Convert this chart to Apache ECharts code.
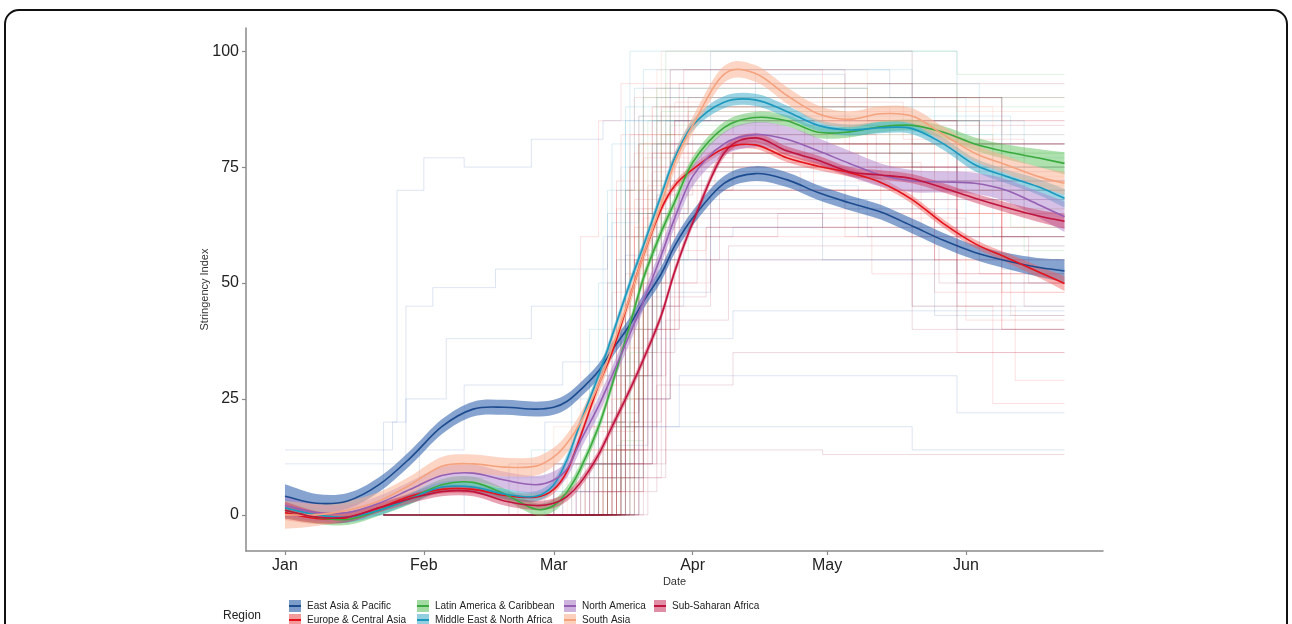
<!DOCTYPE html>
<html><head><meta charset="utf-8">
<script src="https://cdn.jsdelivr.net/npm/echarts@6/dist/echarts.min.js"></script>
<style>html,body{margin:0;padding:0;background:#fff}#c{width:1292px;height:624px}</style>
</head><body><div id="c"></div>
<script>
// ---- axis / tick data ----
const monthDays = [0, 31, 60, 91, 121, 152];
const monthLabels = ['Jan', 'Feb', 'Mar', 'Apr', 'May', 'Jun'];
const yTicks = [0, 25, 50, 75, 100];

// ---- region names ----
const regionNames = ['East Asia & Pacific', 'Europe & Central Asia', 'Latin America & Caribbean',
  'Middle East & North Africa', 'North America', 'South Asia', 'Sub-Saharan Africa'];

// ---- smoothed regional means (days since Jan 1 2020) ----
const days = [0,7,14,21,28,35,42,49,56,60,63,66,70,73,77,80,84,87,91,98,105,112,119,126,133,140,147,154,161,168,174];
const eap  = [4,2.5,3,6.5,12.3,19,22.8,23.2,22.8,23.2,24.5,27,31,35.5,41,46,52,58,64,71.5,73.6,72.3,69.5,67.3,65.3,62.3,59.2,56.6,54.8,53.4,52.6];
const eca  = [0.5,-0.8,-0.6,1.5,4,5.5,5.5,4.2,3.8,5.5,9.5,17,28,35,47,56,66,71,74.5,79,79.8,77,75.2,73.8,71.7,68,62.8,58.5,55.5,52.5,49.9];
const lac  = [1,-0.5,-1,1,3.5,6.5,7,4.5,1.2,2,5,10,19,28,41,51,61,67.5,76,83.5,85.7,85,82.5,82.6,83.7,84,82.5,80,78.3,77,75.8];
const mena = [1.5,0,-0.5,1,3.5,6,6,4.5,4,6.5,12,20,30,38.5,50,58,69,77,84,89,89.5,87,84,83,83.5,83.3,80,75.5,73,70.8,68.3];
const na   = [2,0.5,0.5,2.5,5.5,8.5,9,7.5,6.5,7.5,10,16,23.5,30,39,46,56,64,73,80,82,81,78.5,75.8,73.3,72,71.8,71.5,70,67,64.3];
const sa   = [0,0,1,3,6.5,10.5,11,10.3,10.5,12.5,15.5,20,28,36,47,56,67,76,84,95,95.2,90.5,86.5,85.3,86.5,86,82,78,75.5,73,71.5];
const ssa  = [1,-0.5,-0.5,1.5,3.5,5,5,3,2,2.5,4,7,13,19,27,33.5,43,52.5,63,78,81.3,78.5,76.5,74,73.3,72.5,70.5,68.3,66.3,64.5,63.3];

// ---- confidence band half-widths ----
const eapSE  = [2.6,2.0,1.7,1.6,1.6,1.6,1.6,1.6,1.6,1.6,1.6,1.6,1.6,1.6,1.6,1.6,1.6,1.6,1.6,1.6,1.6,1.6,1.6,1.6,1.6,1.6,1.6,1.6,1.7,2.0,2.5];
const ecaSE  = [1.6,1.2,1.0,0.9,0.9,0.9,0.9,0.9,0.9,0.9,0.9,0.9,0.9,0.9,0.9,0.9,0.9,0.9,0.9,0.9,0.9,0.9,0.9,0.9,0.9,0.9,0.9,0.9,1.0,1.2,1.6];
const lacSE  = [1.8,1.4,1.2,1.2,1.2,1.2,1.2,1.2,1.3,1.3,1.2,1.2,1.2,1.2,1.2,1.2,1.2,1.2,1.2,1.2,1.2,1.2,1.2,1.2,1.2,1.2,1.3,1.4,1.6,1.9,2.4];
const menaSE = [1.8,1.4,1.2,1.1,1.1,1.1,1.1,1.1,1.1,1.1,1.1,1.1,1.1,1.1,1.1,1.1,1.1,1.1,1.2,1.3,1.3,1.3,1.2,1.2,1.2,1.2,1.3,1.4,1.5,1.7,2.0];
const naSE   = [2.2,1.8,1.6,1.6,1.7,1.8,1.8,1.8,1.9,1.9,1.9,1.9,1.9,1.9,1.9,1.9,1.9,2.0,2.2,2.5,2.7,2.8,2.8,2.7,2.5,2.4,2.3,2.3,2.4,2.8,3.3];
const saSE   = [3.0,2.4,2.0,1.9,1.9,2.0,2.0,2.0,2.0,2.0,2.0,2.0,1.9,1.9,1.9,1.9,1.8,1.8,1.8,1.8,1.8,1.8,1.8,1.7,1.7,1.7,1.7,1.8,1.9,2.1,2.5];
const ssaSE  = [1.8,1.3,1.1,1.0,1.0,1.0,1.0,1.0,1.0,1.0,1.0,1.0,1.0,1.0,1.0,1.0,1.0,1.0,1.0,1.0,1.0,1.0,1.0,1.0,1.0,1.0,1.0,1.0,1.1,1.3,1.6];

// ---- individual country step series: flat [day, value, day, value, ...] ----
const stepsEAP = [
  [0,0, 22,20, 25,70, 31,77, 40,75, 55,81, 71,85, 100,82, 121,78, 140,72, 174,72],
  [0,14, 24,20, 27,45, 33,49, 47,53, 60,53, 72,65, 90,74, 125,66, 150,60, 174,60],
  [0,11, 27,25, 36,38, 55,45, 78,55, 95,68, 130,60, 155,55, 174,55],
  [20,0, 30,14, 40,28, 62,33, 80,48, 95,70, 140,62, 160,53, 174,53],
  [22,0, 40,8, 58,20, 76,40, 84,65, 120,55, 145,43, 174,43],
  [22,0, 65,11, 76,56, 83,80, 105,95, 125,85, 150,70, 174,70],
  [24,0, 72,20, 79,70, 86,96, 135,90, 160,80, 174,80],
  [22,0, 60,5, 75,30, 82,60, 100,62, 140,45, 174,45],
  [30,0, 74,15, 81,45, 89,71, 128,60, 150,50, 174,50],
  [22,0, 50,11, 78,19, 88,30, 150,22, 174,22],
  [40,0, 70,11, 82,85, 95,100, 140,75, 174,75],
  [45,0, 79,25, 86,55, 110,55, 150,40, 174,40],
  [22,0, 60,11, 75,19, 100,19, 140,14, 174,14],
  [22,0, 76,30, 84,62, 120,68, 174,68],
  [30,0, 68,8, 80,38, 100,44, 174,44]
];
const stepsECA = [
  [22,0, 52,11, 66,60, 70,85, 75,93, 125,80, 150,65, 160,48, 174,48],
  [22,0, 60,11, 72,50, 75,82, 100,85, 130,75, 160,55, 174,55],
  [30,0, 65,8, 74,70, 78,90, 120,85, 150,65, 174,65],
  [22,0, 68,14, 75,45, 80,80, 130,75, 155,60, 174,60],
  [35,0, 62,5, 73,40, 77,75, 110,75, 140,55, 160,40, 174,40],
  [22,0, 70,20, 76,65, 82,88, 135,80, 160,60, 174,60],
  [45,0, 66,11, 74,55, 81,70, 125,60, 150,35, 174,35],
  [22,0, 71,30, 77,75, 86,96, 120,90, 155,70, 174,70],
  [50,0, 64,19, 72,60, 79,80, 135,70, 160,55, 174,55],
  [22,0, 67,11, 75,50, 85,65, 120,62, 150,45, 163,29, 174,29],
  [55,0, 73,25, 79,80, 90,87, 140,75, 174,75],
  [22,0, 60,14, 76,70, 83,85, 118,70, 160,40, 174,40],
  [40,0, 72,8, 78,60, 84,78, 128,72, 155,52, 174,52],
  [22,0, 69,28, 74,72, 80,92, 130,85, 174,85],
  [58,0, 75,40, 80,77, 100,80, 145,55, 162,43, 174,43],
  [22,0, 66,5, 76,45, 88,60, 150,50, 174,50],
  [48,0, 70,18, 78,62, 92,75, 133,65, 174,65],
  [22,0, 74,11, 80,50, 95,70, 140,45, 158,24, 174,24],
  [22,0, 68,19, 74,66, 79,86, 126,78, 150,58, 174,58],
  [40,0, 71,11, 76,52, 82,74, 115,70, 145,48, 174,48],
  [22,0, 73,14, 78,68, 85,82, 140,72, 174,72],
  [50,0, 69,5, 75,36, 80,64, 122,64, 152,42, 174,42],
  [22,0, 72,28, 77,82, 87,89, 138,81, 165,66, 174,66],
  [35,0, 74,20, 79,57, 94,62, 131,52, 174,52],
  [22,0, 67,8, 73,48, 78,78, 112,80, 148,62, 174,62],
  [45,0, 76,30, 81,71, 96,76, 142,60, 174,60]
];
const stepsLAC = [
  [22,0, 72,20, 76,70, 80,90, 160,88, 174,88],
  [40,0, 74,25, 79,80, 85,100, 150,95, 174,95],
  [22,0, 70,11, 77,60, 84,82, 130,85, 155,75, 174,75],
  [55,0, 76,30, 82,72, 100,78, 140,70, 174,70],
  [22,0, 71,14, 78,50, 86,88, 140,80, 160,66, 174,66],
  [50,0, 75,40, 81,85, 120,93, 150,78, 174,78],
  [22,0, 73,8, 80,55, 90,75, 145,72, 162,62, 174,62],
  [60,0, 77,35, 83,92, 130,90, 174,90],
  [22,0, 72,19, 79,65, 88,80, 150,70, 165,57, 174,57],
  [30,0, 75,16, 80,62, 86,84, 135,78, 174,78],
  [22,0, 78,45, 84,87, 125,82, 158,71, 174,71]
];
const stepsMENA = [
  [22,0, 55,14, 68,40, 73,80, 80,96, 140,85, 160,70, 174,70],
  [22,0, 60,11, 70,50, 76,85, 120,88, 150,72, 174,72],
  [45,0, 66,20, 72,70, 78,92, 130,93, 155,80, 174,80],
  [22,0, 64,25, 71,60, 77,100, 110,100, 150,85, 165,65, 174,65],
  [35,0, 62,8, 74,55, 82,80, 135,80, 158,60, 174,60],
  [22,0, 69,30, 75,75, 83,90, 145,82, 174,82],
  [22,0, 58,5, 68,30, 76,88, 125,90, 152,58, 174,58],
  [50,0, 70,19, 77,65, 85,85, 155,75, 174,75],
  [22,0, 67,11, 73,63, 79,86, 138,86, 162,77, 174,77]
];
const stepsNA = [
  [22,0, 65,5, 74,30, 79,55, 86,72, 130,72, 155,68, 174,68],
  [22,0, 68,11, 76,60, 83,75, 150,72, 174,72]
];
const stepsSA = [
  [22,0, 70,14, 80,55, 84,100, 140,90, 160,82, 174,82],
  [22,0, 50,11, 75,60, 83,96, 130,85, 155,70, 174,70],
  [40,0, 60,19, 77,70, 85,93, 150,87, 174,87],
  [22,0, 72,25, 79,82, 120,90, 150,80, 174,80],
  [50,0, 67,8, 78,50, 82,88, 160,80, 174,80],
  [22,0, 74,30, 81,78, 110,85, 145,72, 174,72],
  [45,0, 63,11, 76,40, 87,70, 140,65, 174,65],
  [22,0, 71,5, 80,66, 90,88, 158,73, 174,73]
];
const stepsSSA = [
  [22,0, 75,11, 82,60, 87,85, 140,80, 160,72, 174,72],
  [50,0, 77,20, 84,88, 130,85, 155,80, 174,80],
  [22,0, 72,5, 80,40, 88,75, 150,70, 174,70],
  [40,0, 74,14, 81,65, 90,90, 160,85, 174,85],
  [22,0, 70,8, 78,55, 86,80, 135,75, 174,75],
  [60,0, 79,30, 85,70, 100,78, 150,60, 174,60],
  [22,0, 76,11, 83,50, 92,66, 145,55, 165,45, 174,45],
  [45,0, 73,19, 80,72, 89,96, 125,93, 174,93],
  [22,0, 78,25, 86,60, 110,65, 150,52, 174,52],
  [55,0, 75,8, 84,45, 95,55, 140,40, 174,40],
  [22,0, 71,14, 82,78, 120,80, 174,80],
  [62,0, 80,35, 87,85, 150,80, 174,80],
  [22,0, 74,5, 83,28, 100,35, 174,35],
  [48,0, 77,11, 85,55, 97,70, 150,60, 166,50, 174,50],
  [22,0, 72,22, 79,66, 93,78, 140,68, 174,68],
  [60,0, 81,40, 88,93, 140,90, 174,90],
  [30,0, 75,14, 120,13, 174,13],
  [22,0, 76,19, 83,69, 91,82, 132,74, 174,74],
  [40,0, 78,8, 85,42, 99,58, 146,50, 174,50],
  [22,0, 79,25, 86,76, 116,84, 174,84],
  [55,0, 73,11, 82,47, 94,62, 174,62]
];

// ---- styling ----
const lineColors = ['#1d4b8f', '#e3121b', '#3aaa3f', '#1a98bd', '#9560b3', '#f5a27f', '#c0133d'];
const bandColors = ['rgba(60,108,178,0.62)', 'rgba(242,88,88,0.45)', 'rgba(96,196,96,0.5)',
  'rgba(70,176,206,0.55)', 'rgba(176,130,204,0.5)', 'rgba(250,178,148,0.55)', 'rgba(204,48,88,0.45)'];
const bandSolid = ['#7d9cca', '#f59a9a', '#a4dba4', '#93cfe1', '#cdb2dd', '#fbd0bd', '#e08ea6'];
const bgColors = ['rgba(40,90,170,0.2)', 'rgba(225,40,45,0.18)', 'rgba(60,170,70,0.2)',
  'rgba(30,150,190,0.2)', 'rgba(150,90,180,0.22)', 'rgba(245,150,120,0.22)', 'rgba(160,20,60,0.2)'];

const means = [eap, eca, lac, mena, na, sa, ssa];
const ses = [eapSE, ecaSE, lacSE, menaSE, naSE, saSE, ssaSE];
const stepSets = [stepsEAP, stepsECA, stepsLAC, stepsMENA, stepsNA, stepsSA, stepsSSA];

// smooth cubic path through pixel points (x-parametrised Hermite, finite-difference tangents)
function smoothPath(pts, start) {
  const n = pts.length;
  const slope = pts.map((p, i) => {
    const a = pts[Math.max(0, i - 1)], b = pts[Math.min(n - 1, i + 1)];
    return (b[1] - a[1]) / (b[0] - a[0]);
  });
  let s = (start ? 'M' : 'L') + pts[0][0].toFixed(2) + ' ' + pts[0][1].toFixed(2);
  for (let i = 0; i < n - 1; i++) {
    const p1 = pts[i], p2 = pts[i + 1], h = (p2[0] - p1[0]) / 3;
    s += ' C' + (p1[0] + h).toFixed(2) + ' ' + (p1[1] + slope[i] * h).toFixed(2) + ' ' +
      (p2[0] - h).toFixed(2) + ' ' + (p2[1] - slope[i + 1] * h).toFixed(2) + ' ' +
      p2[0].toFixed(2) + ' ' + p2[1].toFixed(2);
  }
  return s;
}

const series = [];
stepSets.forEach((set, r) => {
  set.forEach((flat, k) => {
    const data = [];
    for (let i = 0; i < flat.length; i += 2) data.push([flat[i], flat[i + 1]]);
    series.push({
      type: 'line', name: 'bg' + r + '_' + k, data, step: 'end', showSymbol: false, silent: true,
      lineStyle: { width: 0.8, color: bgColors[r] }, z: 1, animation: false
    });
  });
});
means.forEach((m, r) => {
  const se = ses[r];
  series.push({
    type: 'custom', name: regionNames[r], silent: true, z: 2, animation: false,
    itemStyle: { color: bandSolid[r] },
    data: days.map((d, i) => [d, m[i] - se[i], m[i] + se[i]]),
    encode: { x: 0, y: [1, 2] },
    renderItem: (params, api) => {
      if (params.dataIndex !== 0) return null;
      const up = days.map((d, i) => api.coord([d, m[i] + se[i]]));
      const lo = days.map((d, i) => api.coord([d, m[i] - se[i]])).reverse();
      return {
        type: 'path', silent: true,
        shape: { pathData: smoothPath(up, true) + ' ' + smoothPath(lo, false) + ' Z' },
        style: { fill: bandColors[r], stroke: null }
      };
    }
  });
});
means.forEach((m, r) => {
  series.push({
    type: 'custom', name: regionNames[r] + ' mean', silent: true, z: 3, animation: false,
    data: days.map((d, i) => [d, m[i]]),
    encode: { x: 0, y: 1 },
    renderItem: (params, api) => {
      if (params.dataIndex !== 0) return null;
      const pts = days.map((d, i) => api.coord([d, m[i]]));
      return {
        type: 'path', silent: true,
        shape: { pathData: smoothPath(pts, true) },
        style: { fill: null, stroke: lineColors[r], lineWidth: 1.6 }
      };
    }
  });
});

function legendItem(r) {
  return {
    name: regionNames[r], icon: 'rect',
    itemStyle: {
      color: {
        type: 'linear', x: 0, y: 0, x2: 0, y2: 1,
        colorStops: [
          { offset: 0, color: bandSolid[r] }, { offset: 0.42, color: bandSolid[r] },
          { offset: 0.42, color: lineColors[r] }, { offset: 0.58, color: lineColors[r] },
          { offset: 0.58, color: bandSolid[r] }, { offset: 1, color: bandSolid[r] }
        ]
      },
      borderWidth: 0
    }
  };
}
const legendCols = [[0, 1], [2, 3], [4, 5], [6]];
const legendLefts = [289, 417, 564, 654];
const legends = legendCols.map((col, c) => ({
  orient: 'vertical', left: legendLefts[c], top: 600, height: 40, itemWidth: 12, itemHeight: 12, itemGap: 2,
  selectedMode: false, padding: 0,
  textStyle: { fontSize: 10, color: '#222', fontFamily: 'Liberation Sans', padding: [0, 0, 0, 1] },
  data: col.map(legendItem)
}));

const chart = echarts.init(document.getElementById('c'), null, { renderer: 'canvas' });
chart.setOption({
  backgroundColor: '#fff',
  animation: false,
  title: {
    text: 'Region', left: 218, top: 605,
    textStyle: { fontSize: 12, fontWeight: 'normal', color: '#222', fontFamily: 'Liberation Sans' }
  },
  legend: legends,
  grid: { left: 246, right: 189, top: 28, bottom: 73, containLabel: false },
  xAxis: {
    type: 'value', min: -8.7, max: 182.6,
    name: 'Date', nameLocation: 'middle', nameGap: 25, nameMoveOverlap: false,
    nameTextStyle: { fontSize: 11, color: '#333', fontFamily: 'Liberation Sans' },
    axisLine: { show: true, onZero: false, lineStyle: { color: '#8a8a8a', width: 1.5 } },
    axisTick: { show: true, length: 4, customValues: monthDays, lineStyle: { color: '#8a8a8a', width: 1.2 } },
    axisLabel: {
      customValues: monthDays, margin: 7, fontSize: 16, color: '#222', fontFamily: 'Liberation Sans',
      formatter: v => monthLabels[monthDays.indexOf(Math.round(v))] || ''
    },
    splitLine: { show: false }
  },
  yAxis: {
    type: 'value', min: -7.8, max: 105,
    name: 'Stringency Index', nameLocation: 'middle', nameGap: 36, nameRotate: 90, nameMoveOverlap: false,
    nameTextStyle: { fontSize: 11, color: '#333', fontFamily: 'Liberation Sans' },
    axisLine: { show: true, onZero: false, lineStyle: { color: '#8a8a8a', width: 1.5 } },
    axisTick: { show: true, length: 4, customValues: yTicks, lineStyle: { color: '#8a8a8a', width: 1.2 } },
    axisLabel: { customValues: yTicks, margin: 7, fontSize: 16, color: '#222', fontFamily: 'Liberation Sans' },
    splitLine: { show: false }
  },
  graphic: [{
    type: 'rect', silent: true, z: 100,
    shape: { x: 5, y: 10, width: 1282, height: 660, r: 14 },
    style: { fill: 'none', stroke: '#111', lineWidth: 2 }
  }],
  series
});
</script>
</body></html>
